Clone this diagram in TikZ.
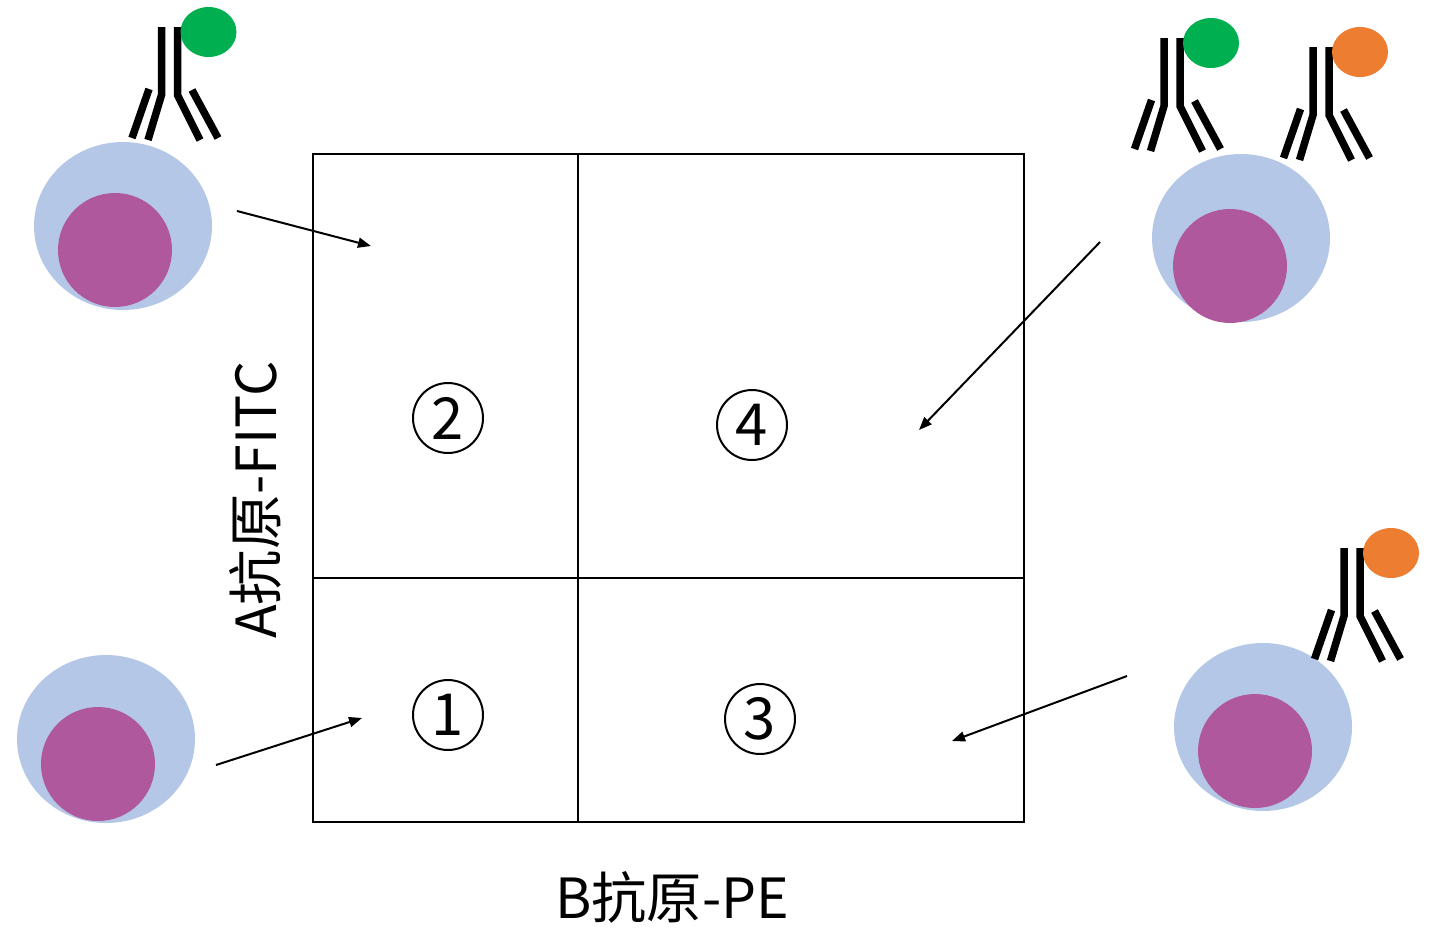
\documentclass[tikz,border=0pt]{standalone}
\usepackage{fontspec}
\setmainfont{Noto Sans CJK SC}
\usetikzlibrary{arrows.meta}
\tikzset{>={Stealth[length=0.26cm,width=0.2cm,inset=0pt]}}

\definecolor{cellbody}{RGB}{180,199,231}
\definecolor{nucleus}{RGB}{176,88,157}
\definecolor{fitc}{RGB}{0,176,80}
\definecolor{pe}{RGB}{237,125,49}

\tikzset{
  grid line/.style={line width=0.04cm},
  ab chain/.style={line width=0.15cm,line join=miter},
  quad num/.style={circle,draw,line width=0.04cm,minimum size=1.4cm,inner sep=0pt,
                   font=\fontsize{33}{33}\selectfont},
  axis label/.style={font=\fontsize{31.5}{36}\selectfont}
}

\begin{document}
\begin{tikzpicture}[x=0.02cm,y=-0.02cm]
\useasboundingbox (0,0) rectangle (1435,927);

% quadrant plot
\draw[grid line] (313,154) rectangle (1024,822);
\draw[grid line] (578,154) -- (578,822);
\draw[grid line] (313,578) -- (1024,578);
\node[quad num] (q1) at (448,715) {1};
\node[quad num] (q2) at (448,418) {2};
\node[quad num] (q3) at (760,719) {3};
\node[quad num] (q4) at (752,425) {4};

% axis labels
\node[axis label] (xlab) at (672,897) {B抗原-PE};
\node[axis label,rotate=90] (ylab) at (255,500) {A抗原-FITC};

% cells: membrane, then nucleus
\foreach \bx/\by/\nx/\ny in {123/226/115/250, 106/739/98/764,
                             1241/238/1230/266, 1263/727/1255/751}{
  \fill[cellbody] (\bx,\by) ellipse [x radius=89,y radius=84];
  \fill[nucleus] (\nx,\ny) circle [radius=57];
}

% antibodies with their dye
\foreach \ax/\ay/\dye in {169.5/27/fitc, 1172/38/fitc, 1321/47/pe, 1352/548/pe}{
\begin{scope}[shift={(\ax,\ay)}]
\draw[ab chain] (-8,0) -- (-8,68) -- (-21.5,113);
\draw[ab chain] (8,0) -- (8,68) -- (30.5,113);
\draw[ab chain] (-20.5,62) -- (-37.5,111);
\draw[ab chain] (22.5,63) -- (48.5,111);
\fill[\dye] (39,5) ellipse [x radius=28,y radius=25];
\end{scope}
}

% arrows from each cell into its quadrant
\coordinate (fitcTail) at (237,211);
\coordinate (fitcHead) at (371,246);
\coordinate (negTail) at (216,765);
\coordinate (negHead) at (362,718);
\coordinate (dblTail) at (1100,242);
\coordinate (dblHead) at (919,430);
\coordinate (peTail) at (1127,676);
\coordinate (peHead) at (952,741);
\draw[grid line,->] (fitcTail) -- (fitcHead);
\draw[grid line,->] (negTail) -- (negHead);
\draw[grid line,->] (dblTail) -- (dblHead);
\draw[grid line,->] (peTail) -- (peHead);
\end{tikzpicture}
\end{document}
